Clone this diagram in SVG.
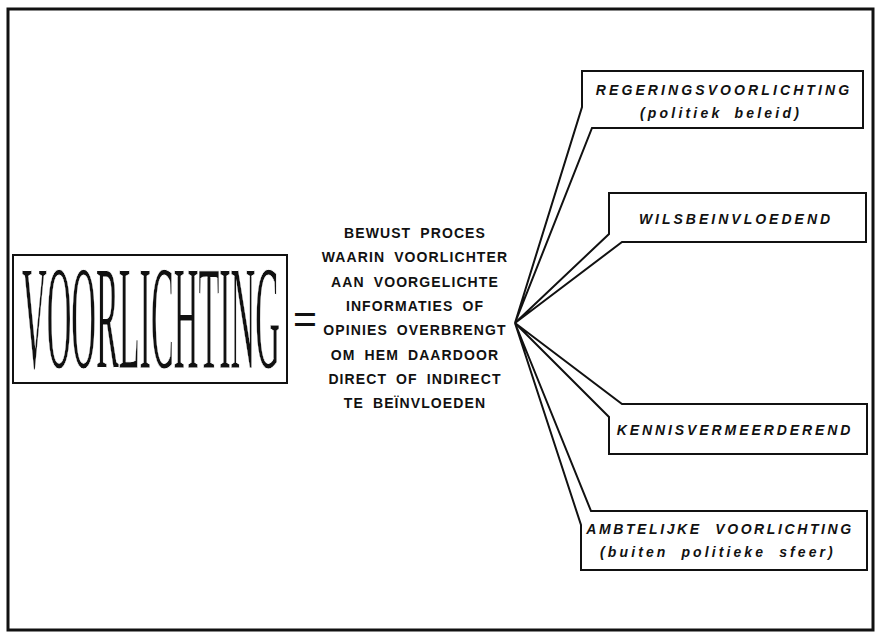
<svg xmlns="http://www.w3.org/2000/svg" width="879" height="635" viewBox="0 0 879 635">
<style>
.frame{fill:none;stroke:#111;stroke-width:3}
.bubble{fill:#fff;stroke:#111;stroke-width:2;stroke-linejoin:miter}
.mid{font-family:"Liberation Sans",Arial,sans-serif;font-weight:bold;font-size:14px;letter-spacing:1.1px;word-spacing:4px;fill:#111;text-anchor:middle}
.lbl{font-family:"Liberation Sans",Arial,sans-serif;font-weight:bold;font-style:italic;font-size:14px;fill:#111;text-anchor:middle}
</style>
<rect x="0" y="0" width="879" height="635" fill="#fff"/>
<rect class="frame" x="8" y="9" width="865" height="621"/>
<g id="voorlichting">
<rect x="13" y="255" width="274" height="128" fill="none" stroke="#111" stroke-width="2"/>
<text transform="translate(22,368) scale(0.2307,1)" x="0" y="0" font-family="Liberation Serif,'Times New Roman',serif" font-size="148" fill="#111" stroke="#fff" stroke-width="0.7" vector-effect="non-scaling-stroke">VOORLICHTING</text>
</g>
<g id="equals">
<text x="293" y="333" font-family="Liberation Sans,Arial,sans-serif" font-size="41" fill="#111">=</text>
</g>
<g id="definition">
<text class="mid" x="415" y="238">BEWUST PROCES</text>
<text class="mid" x="415" y="262">WAARIN VOORLICHTER</text>
<text class="mid" x="415" y="287">AAN VOORGELICHTE</text>
<text class="mid" x="415" y="311">INFORMATIES OF</text>
<text class="mid" x="415" y="335">OPINIES OVERBRENGT</text>
<text class="mid" x="415" y="360">OM HEM DAARDOOR</text>
<text class="mid" x="415" y="384">DIRECT OF INDIRECT</text>
<text class="mid" x="415" y="408">TE BEÏNVLOEDEN</text>
</g>
<g id="connectors">
<polygon class="bubble" points="515,323 582,107 582,71 863,71 863,128 592,128"/>
<polygon class="bubble" points="515,323 609,234 609,193 866,193 866,242 622,242"/>
<polygon class="bubble" points="515,323 622,404 867,404 867,454 609,454 609,417"/>
<polygon class="bubble" points="515,323 591,511 867,511 867,570 581,570 581,525"/>
</g>
<g id="regeringsvoorlichting">
<text class="lbl" x="724" y="95" letter-spacing="3.1">REGERINGSVOORLICHTING</text>
<text class="lbl" x="721" y="118" letter-spacing="3.2" word-spacing="5">(politiek beleid)</text>
</g>
<g id="wilsbeinvloedend">
<text class="lbl" x="736" y="224" letter-spacing="3.0">WILSBEINVLOEDEND</text>
</g>
<g id="kennisvermeerderend">
<text class="lbl" x="735" y="435" letter-spacing="2.9">KENNISVERMEERDEREND</text>
</g>
<g id="ambtelijke">
<text class="lbl" x="720" y="534" letter-spacing="2.6" word-spacing="7">AMBTELIJKE VOORLICHTING</text>
<text class="lbl" x="718" y="557" letter-spacing="3.1" word-spacing="6">(buiten politieke sfeer)</text>
</g>
</svg>
